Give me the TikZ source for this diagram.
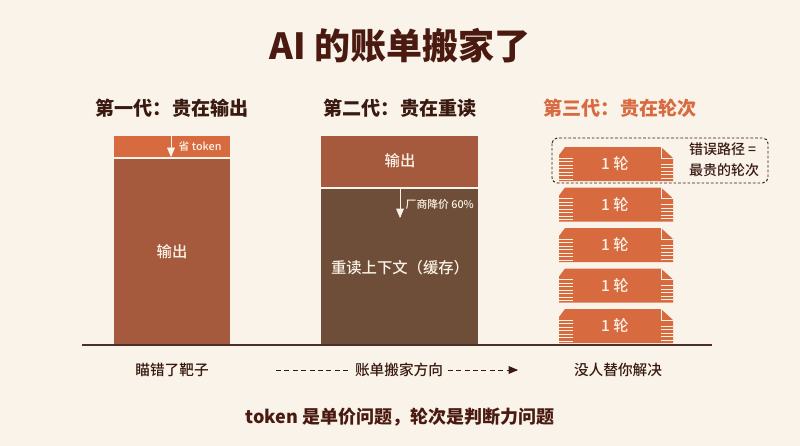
\documentclass[tikz,border=0pt]{standalone}
\usepackage{fontspec}
\setmainfont{Noto Sans CJK SC}
\newfontfamily\heavyfont{Noto Sans CJK SC Black}
\newfontfamily\midfont{Noto Sans CJK SC Medium}
\usepackage{xcolor}
\usepackage{tikz}
\usetikzlibrary{arrows}
\usetikzlibrary{calc}
\usetikzlibrary{positioning}

\definecolor{bg}{HTML}{F9F3EA}
\definecolor{ink}{HTML}{4A1A10}
\definecolor{hdr}{HTML}{3A1A10}
\definecolor{ora}{HTML}{D86A40}
\definecolor{rust}{HTML}{A55A3E}
\definecolor{mud}{HTML}{6E4E38}
\definecolor{cream}{HTML}{FBF2E6}
\definecolor{base}{HTML}{4A3028}

\begin{document}
\begin{tikzpicture}[x=0.75pt,y=-0.75pt,>=triangle 45,semithick]
 \tikzstyle{head}=[font=\fontsize{14.3}{16}\selectfont\bfseries, text=hdr]
 \tikzstyle{boxtext}=[font=\fontsize{11.5}{13}\selectfont\midfont, text=cream]
 \tikzstyle{small}=[font=\fontsize{8.1}{10}\selectfont\midfont, text=cream, inner sep=1pt]
 \tikzstyle{foot}=[font=\fontsize{11}{13}\selectfont\midfont, text=hdr]
 \tikzstyle{ticket}=[fill=ora, draw=none]
 \tikzstyle{stripe}=[draw=cream, line width=0.6pt]
 \fill[bg] (0,0) rectangle (800,446);
 \useasboundingbox (0,0) rectangle (800,446);
 % title and headers
 \node[font=\fontsize{27}{30}\selectfont\heavyfont, text=ink] (title) at (400,46) {AI 的账单搬家了};
 \node[head] (h1) at (172,108) {第一代：贵在输出};
 \node[head] (h2) at (400,108) {第二代：贵在重读};
 \node[head, text=ora] (h3) at (620,108) {第三代：贵在轮次};
 % first generation
 \fill[ora] (114,136) rectangle (230,157);
 \fill[rust] (114,159) rectangle (230,345);
 \node[boxtext] (out1) at (172,252) {输出};
 \coordinate (a1) at (171,136);
 \coordinate (b1) at (171,157);
 \draw[->, cream] (a1) -- (b1);
 \node[small, anchor=west] (save) at (177,146) {省 token};
 % second generation
 \fill[rust] (321,136) rectangle (478,187);
 \fill[mud] (321,189) rectangle (478,345);
 \node[boxtext] (out2) at (400,161) {输出};
 \node[boxtext] (reread) at (400,268) {重读上下文（缓存）};
 \coordinate (a2) at (400,189);
 \coordinate (b2) at (400,218);
 \draw[->, cream] (a2) -- (b2);
 \node[small, anchor=west] (cut) at (404,204) {厂商降价 60\%};
 % third generation
 \foreach \i in {0,...,4} {
   \begin{scope}[shift={(0,147+40.5*\i)}]
     \fill[ticket] (559,8) -- (565,0) -- (661,0) -- (673,11) -- (673,34) -- (559,34) -- cycle;
     \draw[cream, line width=0.6pt] (661,0) -- (661,11) -- (673,11);
     \foreach \s in {11,14.5,...,32} \draw[stripe] (559,\s) -- (573,\s);
     \foreach \s in {17,20.5,...,32} \draw[stripe] (661,\s) -- (673,\s);
     \node[boxtext] (t\i) at (615,17) {1 轮};
   \end{scope}
 }
 \draw[hdr, dash pattern=on 2pt off 1.5pt, rounded corners=4pt, line width=0.7pt] (552,138) rectangle (768,183);
 \node[foot, font=\fontsize{10.5}{15.5}\selectfont\midfont, align=left] (note) at (724,160) {错误路径 =\\最贵的轮次};
 % base line and captions
 \draw[base, line width=1.2pt] (82,345) -- (712,345);
 \node[foot] (c1) at (172,370) {瞄错了靶子};
 \node[foot] (c3) at (618,370) {没人替你解决};
 \node[foot] (move) at (399,370) {账单搬家方向};
 \coordinate (l1) at (276,370);
 \coordinate (r1) at (518,370);
 \draw[hdr, dash pattern=on 3.7pt off 2.6pt] (l1) -- (move.west);
 \draw[hdr, ->, dash pattern=on 3.7pt off 2.6pt] (move.east) -- (r1);
 \node[font=\fontsize{13.5}{16}\selectfont\bfseries, text=ink] (moral) at (400,417) {token 是单价问题，轮次是判断力问题};
\end{tikzpicture}
\end{document}
